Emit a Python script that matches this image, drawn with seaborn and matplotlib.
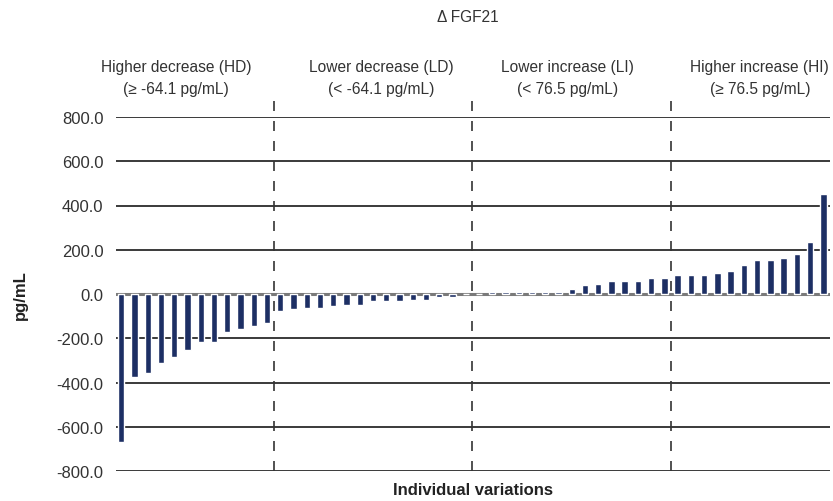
import numpy as np
import pandas as pd
import seaborn as sns
import matplotlib.pyplot as plt

# Individual changes in FGF21 (pg/mL), sorted, by group
hd = [-667, -374, -356, -310, -283, -252, -218, -218, -170, -157, -143, -132]
ld = [-77, -68, -65, -65, -54, -50, -50, -32, -32, -32, -27, -27, -14, -14, 0]
li = [0, 10, 10, 10, 10, 10, 10, 24, 39, 44, 60, 60, 60, 74, 74]
hi = [86, 86, 86, 95, 104, 131, 154, 154, 163, 181, 236, 452]

group_titles = ["Higher decrease (HD)", "Lower decrease (LD)",
                "Lower increase (LI)", "Higher increase (HI)"]
group_limits = ["(\u2265 -64.1 pg/mL)", "(< -64.1 pg/mL)",
                "(< 76.5 pg/mL)", "(\u2265 76.5 pg/mL)"]
yticks = [-800, -600, -400, -200, 0, 200, 400, 600, 800]

values = hd + ld + li + hi
df = pd.DataFrame({"idx": np.arange(len(values)), "delta": values})

sns.set_style("white")
plt.rcParams["font.family"] = ["Liberation Sans", "DejaVu Sans"]

fig = plt.figure(figsize=(8.33, 5.02), dpi=100)
ax = fig.add_axes([116 / 833, 1 - 472 / 502, (830 - 116) / 833, (472 - 118) / 502])

sns.barplot(data=df, x="idx", y="delta", color="#1d2f64", width=0.48,
            saturation=1, ax=ax, zorder=3)

ax.set_xlim(-0.4, len(values) - 0.5)
ax.set_ylim(-800, 800)
ax.set_yticks(yticks)
ax.set_yticklabels([f"{v:.1f}" for v in yticks], fontsize=12, color="#333333")
ax.set_xticks([])
ax.tick_params(axis="y", length=0, pad=9)

for v in yticks:
    if v == 0:
        ax.axhline(v, color="#7a7a7a", lw=2.2, zorder=2)
    else:
        ax.axhline(v, color="#2b2b2b", lw=1.3, zorder=1)

for s in ax.spines.values():
    s.set_visible(False)

# dashed separators between groups
bounds = np.cumsum([len(hd), len(ld), len(li)]) - 0.5
for b in bounds:
    ax.plot([b, b], [-800, 880], ls=(0, (6, 6)), color="#333333", lw=1.2,
            clip_on=False, zorder=2)

label_x = [4.13, 19.6, 33.7, 48.2]
for x, t, lim in zip(label_x, group_titles, group_limits):
    ax.text(x, 1030, t, ha="center", va="center", fontsize=11.2, color="#333333")
    ax.text(x, 930, lim, ha="center", va="center", fontsize=11.2, color="#333333")

fig.text(468 / 833, 1 - 17 / 502, "\u0394 FGF21", ha="center", va="center",
         fontsize=11.2, color="#333333")
ax.set_xlabel("Individual variations", fontsize=12, fontweight="bold",
              color="#222222", labelpad=8)
ax.set_ylabel("")
fig.text(20 / 833, 1 - 295 / 502, "pg/mL", rotation=90, ha="center",
         va="center", fontsize=12, fontweight="bold", color="#222222")

fig.savefig("out.png", dpi=100)
